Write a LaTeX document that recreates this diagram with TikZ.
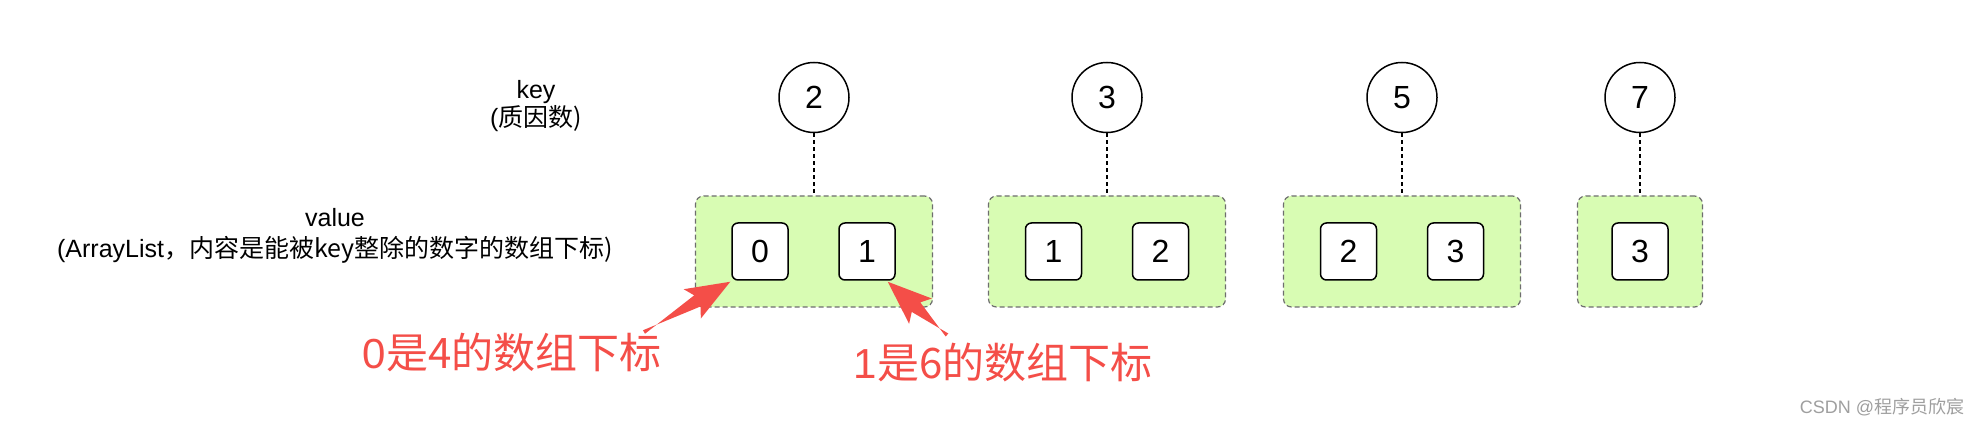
\documentclass[tikz,border=0pt]{standalone}
\usepackage{fontspec}
\setmainfont{Liberation Sans}
\newfontfamily\cjk{Noto Sans CJK SC}
\usetikzlibrary{calc}
\definecolor{grn}{HTML}{D8FCB3}
\definecolor{redc}{HTML}{F44E48}
\definecolor{dgray}{HTML}{6E6E6E}
\newcommand{\fatarrow}[2]{%
  \coordinate (hb) at ($(#2)!19pt!(#1)$);
  \coordinate (hw) at ($(#2)!22pt!(#1)$);
  \fill[redc] ($(#1)!1pt!90:(#2)$) -- ($(hb)!3.2pt!-90:(#2)$) -- ($(hw)!8.5pt!-90:(#2)$) -- (#2)
     -- ($(hw)!8.5pt!90:(#2)$) -- ($(hb)!3.2pt!90:(#2)$) -- ($(#1)!1pt!-90:(#2)$) -- cycle;}
\begin{document}
\begin{tikzpicture}[x=0.5pt,y=-0.5pt,
  keynode/.style={circle, draw, line width=0.75pt, minimum size=35pt, inner sep=0pt, font=\fontsize{16}{19}\selectfont},
  grp/.style={draw=dgray, fill=grn, dash pattern=on 2.5pt off 1.5pt, line width=0.6pt, rounded corners=4pt, minimum height=55.5pt, inner sep=0pt},
  item/.style={draw, fill=white, line width=0.75pt, rounded corners=3pt, minimum width=28pt, minimum height=28.5pt, inner sep=0pt, font=\fontsize{16}{19}\selectfont},
  link/.style={dash pattern=on 2pt off 1.5pt, line width=0.6pt},
  note/.style={text=redc, font=\fontsize{21}{25}\selectfont, inner sep=0pt},
  lbl/.style={align=center, inner sep=0pt}]
\fill[white] (0,0) rectangle (1982,426);
\useasboundingbox (0,0) rectangle (1982,426);

% labels
\node[lbl, font=\fontsize{12.5}{14}\selectfont] (kl) at (536,106) {key\\(\cjk{质因数})};
\node[lbl, font=\fontsize{12.5}{15.5}\selectfont] (vl) at (335,236) {value\\(ArrayList\cjk{，内容是能被}key\cjk{整除的数字的数组下标})};

% groups
\node[grp, minimum width=118.5pt] (g1) at (814,251.5) {};
\node[grp, minimum width=118.5pt] (g2) at (1107,251.5) {};
\node[grp, minimum width=118.5pt] (g3) at (1402,251.5) {};
\node[grp, minimum width=62.5pt] (g4) at (1640,251.5) {};

% keys
\node[keynode] (k1) at (814,97.5) {2};
\node[keynode] (k2) at (1107,97.5) {3};
\node[keynode] (k3) at (1402,97.5) {5};
\node[keynode] (k4) at (1640,97.5) {7};

\draw[link] (k1) -- (g1);
\draw[link] (k2) -- (g2);
\draw[link] (k3) -- (g3);
\draw[link] (k4) -- (g4);

% items
\node[item] (v11) at (760,251.5) {0};
\node[item] (v12) at (867,251.5) {1};
\node[item] (v21) at (1053.5,251.5) {1};
\node[item] (v22) at (1160.5,251.5) {2};
\node[item] (v31) at (1348.5,251.5) {2};
\node[item] (v32) at (1455.5,251.5) {3};
\node[item] (v41) at (1640,251.5) {3};

% notes
\node[note] (n1) at (512,353) {0\cjk{是}4\cjk{的数组下标}};
\node[note] (n2) at (1003,363) {1\cjk{是}6\cjk{的数组下标}};

\coordinate (t1) at (644,332);
\coordinate (p1) at ($(v11.south west)+(-1,1)$);
\coordinate (t2) at (947,335);
\coordinate (p2) at ($(v12.south east)+(-8,1)$);
\fatarrow{t1}{p1}
\fatarrow{t2}{p2}

% watermark
\node[text=gray!75, font=\fontsize{9}{11}\selectfont, inner sep=0pt] (wm) at (1882,407) {CSDN @\cjk{程序员欣宸}};
\end{tikzpicture}
\end{document}
